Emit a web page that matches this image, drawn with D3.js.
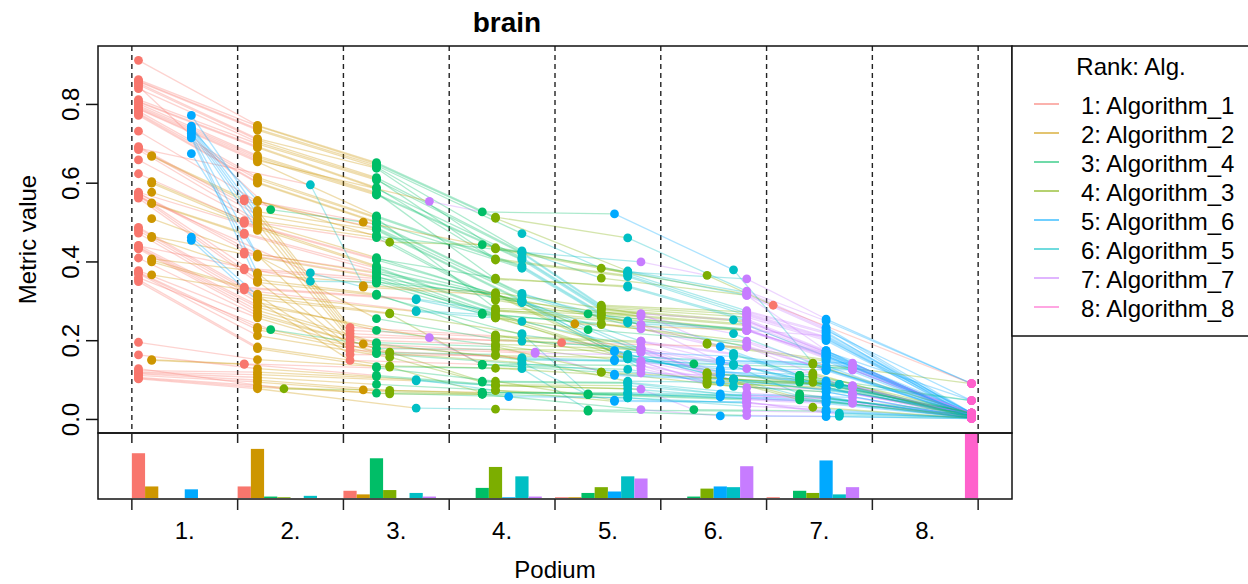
<!DOCTYPE html>
<html>
<head>
<meta charset="utf-8">
<script src="https://cdn.jsdelivr.net/npm/d3@7"></script>
<style>
body { margin: 0; background: #fff; }
text { font-family: "Liberation Sans", Arial, sans-serif; fill: #000; }
</style>
</head>
<body>
<svg id="chart" width="1248" height="584"></svg>
<script>
var chartTitle = "brain";
var xTitle = "Podium";
var yTitle = "Metric value";
var legendTitle = "Rank: Alg.";
// colours follow the alphabetical algorithm names
var algorithms = ["Algorithm_1", "Algorithm_2", "Algorithm_3", "Algorithm_4", "Algorithm_5", "Algorithm_6", "Algorithm_7", "Algorithm_8"];
var algColors = ["#F8766D", "#CD9600", "#7CAE00", "#00BE67", "#00BFC4", "#00A9FF", "#C77CFF", "#FF61CC"];
// consensus ranking, also the column order of caseValues
var consensus = ["Algorithm_1", "Algorithm_2", "Algorithm_4", "Algorithm_3", "Algorithm_6", "Algorithm_5", "Algorithm_7", "Algorithm_8"];
var podiumLabels = ["1.", "2.", "3.", "4.", "5.", "6.", "7.", "8."];
var yTicks = [0, 0.2, 0.4, 0.6, 0.8];

// metric value of every test case
var caseValues = [
	[.912,.747,.652,.514,.250,.461,.326,.091],
	[.863,.745,.649,.511,.234,.377,.323,.016],
	[.860,.738,.645,.384,.230,.472,.318,.010],
	[.858,.735,.641,.359,.226,.428,.315,.048],
	[.854,.713,.638,.433,.222,.371,.276,.004],
	[.850,.710,.614,.290,.218,.425,.273,.016],
	[.840,.704,.611,.408,.210,.366,.270,.010],
	[.812,.700,.608,.287,.207,.422,.267,.004],
	[.808,.693,.589,.405,.204,.363,.264,.016],
	[.806,.690,.586,.284,.200,.411,.260,.010],
	[.802,.670,.576,.356,.175,.339,.255,.004],
	[.797,.666,.573,.281,.172,.408,.251,.048],
	[.793,.662,.570,.278,.170,.405,.248,.016],
	[.790,.658,.527,.143,.522,.380,.554,.091],
	[.788,.654,.517,.271,.167,.390,.242,.010],
	[.783,.615,.514,.268,.163,.387,.239,.004],
	[.778,.610,.511,.282,.160,.253,.268,.016],
	[.775,.603,.502,.265,.158,.384,.229,.010],
	[.772,.600,.499,.259,.155,.320,.226,.004],
	[.560,.670,.496,.194,.152,.317,.241,.010],
	[.555,.668,.487,.191,.148,.314,.230,.004],
	[.732,.553,.484,.116,.098,.303,.180,.010],
	[.693,.528,.481,.106,.089,.300,.171,.016],
	[.690,.519,.468,.306,.130,.218,.262,.004],
	[.685,.505,.462,.303,.127,.249,.184,.010],
	[.505,.604,.444,.450,.175,.374,.315,.004],
	[.659,.500,.411,.095,.078,.297,.146,.016],
	[.500,.600,.408,.359,.170,.336,.251,.010],
	[.498,.577,.405,.319,.150,.160,.143,.004],
	[.624,.490,.390,.316,.128,.154,.126,.016],
	[.577,.485,.387,.279,.160,.250,.230,.010],
	[.473,.550,.384,.276,.167,.245,.226,.004],
	[.470,.548,.377,.140,.150,.300,.199,.016],
	[.425,.510,.374,.268,.094,.100,.171,.010],
	[.575,.420,.371,.089,.070,.303,.137,.004],
	[.420,.465,.364,.265,.145,.162,.135,.016],
	[.574,.412,.361,.092,.082,.297,.129,.010],
	[.384,.462,.358,.261,.123,.154,.085,.004],
	[.380,.408,.352,.114,.120,.249,.181,.016],
	[.571,.368,.346,.258,.172,.160,.126,.010],
	[.568,.355,.318,.215,.120,.157,.082,.004],
	[.562,.348,.315,.094,.115,.215,.174,.016],
	[.336,.405,.268,.276,.163,.306,.226,.010],
	[.333,.400,.270,.241,.136,.304,.199,.004],
	[.329,.367,.267,.244,.127,.276,.187,.016],
	[.488,.318,.228,.258,.124,.274,.196,.010],
	[.485,.312,.065,.270,.047,.218,.053,.004],
	[.480,.305,.138,.268,.078,.127,.081,.016],
	[.473,.298,.226,.188,.152,.140,.065,.010],
	[.442,.290,.140,.120,.070,.084,.208,.004],
	[.438,.285,.195,.185,.115,.103,.065,.016],
	[.436,.277,.192,.118,.149,.151,.129,.004],
	[.433,.270,.180,.178,.175,.100,.085,.010],
	[.410,.264,.097,.171,.058,.094,.066,.004],
	[.378,.258,.170,.165,.095,.097,.085,.010],
	[.374,.234,.063,.168,.056,.144,.061,.004],
	[.372,.228,.167,.109,.112,.141,.118,.004],
	[.370,.213,.095,.158,.053,.092,.058,.010],
	[.355,.184,.024,.136,.018,.129,.021,.004],
	[.350,.180,.134,.130,.112,.100,.068,.004],
	[.196,.152,.069,.133,.053,.068,.061,.010],
	[.141,.152,.131,.097,.049,.016,.044,.004],
	[.140,.150,.112,.088,.065,.086,.056,.004],
	[.164,.129,.109,.086,.060,.078,.045,.004],
	[.124,.120,.063,.074,.040,.101,.050,.004],
	[.120,.114,.025,.086,.021,.098,.077,.004],
	[.118,.107,.089,.074,.046,.012,.044,.004],
	[.116,.100,.067,.074,.057,.065,.041,.004],
	[.112,.095,.064,.070,.025,.055,.034,.004],
	[.107,.086,.067,.031,.058,.055,.041,.003],
	[.105,.082,.064,.065,.009,.008,.025,.002],
	[.103,.078,.021,.026,.007,.029,.010,.002],
	[.846,.501,.533,.436,.255,.374,.357,.091],
	[.689,.340,.112,.322,.185,.596,.268,.048],
	[.566,.336,.103,.316,.147,.372,.241,.016],
	[.441,.243,.349,.319,.213,.351,.226,.016],
	[.360,.192,.228,.098,.089,.154,.146,.010],
	[.129,.075,.069,.078,.044,.065,.053,.004],
	[.234,.531,.112,.212,.772,.168,.199,.016],
	[.226,.522,.108,.209,.745,.165,.196,.010],
	[.218,.510,.103,.201,.740,.140,.183,.004],
	[.210,.497,.095,.119,.735,.199,.180,.010],
	[.202,.480,.065,.191,.730,.137,.177,.004],
	[.194,.417,.060,.120,.726,.103,.171,.016],
	[.186,.372,.055,.116,.720,.165,.168,.004],
	[.176,.351,.050,.113,.715,.157,.149,.010],
	[.165,.315,.141,.162,.463,.157,.130,.016],
	[.150,.302,.140,.106,.455,.089,.137,.004],
	[.290,.556,.465,.366,.738,.425,.400,.091],
	[.195,.415,.256,.204,.675,.089,.184,.048]
];

var box = {left: 98, right: 1012, top: 46, mid: 433, bottom: 499};
var nAlg = consensus.length;
var nCase = caseValues.length;
var svg = d3.select('#chart');

var colorOf = d3.scaleOrdinal().domain(algorithms).range(algColors);
function algColor(k) { return colorOf(consensus[k]); }

// R style axis padding (4% on each side)
var x = d3.scaleLinear().domain([-0.04 * nAlg, nAlg * 1.04]).range([box.left, box.right]);
var ext = d3.extent(d3.merge(caseValues));
var pad = (ext[1] - ext[0]) * 0.04;
var y = d3.scaleLinear().domain([ext[0] - pad, ext[1] + pad]).range([box.mid, box.top]);
var yBar = d3.scaleLinear().domain([0, nCase]).range([box.bottom - 1, box.mid]);

// rank inside each case, larger is better, ties take the lowest rank
var ranked = caseValues.map(function(row) {
	return row.map(function(v, k) {
		var r = 1;
		row.forEach(function(w) { if (w > v) r++; });
		return {alg: k, value: v, rank: r};
	});
});
function xPos(d) { return x(d.rank - 1 + (d.alg + 0.5) / nAlg); }

// counts of each algorithm at each podium place
var counts = [];
for (var r = 0; r < nAlg; r++) for (var k = 0; k < nAlg; k++) counts.push({rank: r + 1, alg: k, n: 0});
ranked.forEach(function(row) {
	row.forEach(function(d) { counts[(d.rank - 1) * nAlg + d.alg].n++; });
});

// podium separators
svg.append('g').selectAll('line')
	.data(d3.range(nAlg + 1))
	.enter().append('line')
	.attr('x1', function(d) { return x(d); })
	.attr('x2', function(d) { return x(d); })
	.attr('y1', box.top)
	.attr('y2', box.mid)
	.attr('stroke', '#222')
	.attr('stroke-width', 1.4)
	.attr('stroke-dasharray', '5,4');

// connecting lines, each segment coloured by its starting algorithm
var segs = [];
ranked.forEach(function(row) {
	var ord = row.slice().sort(function(a, b) { return a.rank - b.rank || a.alg - b.alg; });
	for (var i = 0; i < ord.length - 1; i++) segs.push({a: ord[i], b: ord[i + 1]});
});
svg.append('g').selectAll('line')
	.data(segs)
	.enter().append('line')
	.attr('x1', function(d) { return xPos(d.a); })
	.attr('y1', function(d) { return y(d.a.value); })
	.attr('x2', function(d) { return xPos(d.b); })
	.attr('y2', function(d) { return y(d.b.value); })
	.attr('stroke', function(d) { return algColor(d.a.alg); })
	.attr('stroke-opacity', 0.32)
	.attr('stroke-width', 1.3);

svg.append('g').selectAll('circle')
	.data(d3.merge(ranked))
	.enter().append('circle')
	.attr('cx', xPos)
	.attr('cy', function(d) { return y(d.value); })
	.attr('r', 4.4)
	.attr('fill', function(d) { return algColor(d.alg); });

// bar panel
svg.append('g').selectAll('rect')
	.data(counts.filter(function(d) { return d.n > 0; }))
	.enter().append('rect')
	.attr('x', function(d) { return x(d.rank - 1 + d.alg / nAlg); })
	.attr('width', function(d) { return x(d.rank - 1 + (d.alg + 1) / nAlg) - x(d.rank - 1 + d.alg / nAlg); })
	.attr('y', function(d) { return yBar(d.n); })
	.attr('height', function(d) { return yBar(0) - yBar(d.n); })
	.attr('fill', function(d) { return algColor(d.alg); });

// frames
[[box.top, box.mid], [box.mid, box.bottom]].forEach(function(p) {
	svg.append('rect')
		.attr('x', box.left).attr('y', p[0])
		.attr('width', box.right - box.left).attr('height', p[1] - p[0])
		.attr('fill', 'none').attr('stroke', '#111').attr('stroke-width', 1.5);
});

// y axis
var yAxis = svg.append('g');
yAxis.selectAll('line').data(yTicks).enter().append('line')
	.attr('x1', box.left - 12).attr('x2', box.left)
	.attr('y1', function(d) { return y(d); }).attr('y2', function(d) { return y(d); })
	.attr('stroke', '#111').attr('stroke-width', 1.5);
yAxis.selectAll('text').data(yTicks).enter().append('text')
	.attr('transform', function(d) { return 'translate(79,' + y(d) + ') rotate(-90)'; })
	.attr('text-anchor', 'middle')
	.style('font-size', '24px')
	.text(function(d) { return d3.format('.1f')(d); });
svg.append('text')
	.attr('transform', 'translate(36,' + ((box.top + box.mid) / 2) + ') rotate(-90)')
	.attr('text-anchor', 'middle')
	.style('font-size', '24px')
	.text(yTitle);

// podium ticks and labels
var places = d3.range(nAlg + 1);
svg.append('g').selectAll('line').data(places).enter().append('line')
	.attr('x1', function(d) { return x(d); }).attr('x2', function(d) { return x(d); })
	.attr('y1', box.mid).attr('y2', box.mid + 10)
	.attr('stroke', '#222').attr('stroke-width', 1.5);
svg.append('g').selectAll('line').data(places).enter().append('line')
	.attr('x1', function(d) { return x(d); }).attr('x2', function(d) { return x(d); })
	.attr('y1', box.bottom).attr('y2', box.bottom + 11)
	.attr('stroke', '#222').attr('stroke-width', 1.5);
svg.append('g').selectAll('text').data(podiumLabels).enter().append('text')
	.attr('x', function(d, i) { return x(i + 0.5); })
	.attr('y', 539)
	.attr('text-anchor', 'middle')
	.style('font-size', '24px')
	.text(function(d) { return d; });
svg.append('text')
	.attr('x', (box.left + box.right) / 2)
	.attr('y', 578)
	.attr('text-anchor', 'middle')
	.style('font-size', '24px')
	.text(xTitle);

svg.append('text')
	.attr('x', 507)
	.attr('y', 32)
	.attr('text-anchor', 'middle')
	.style('font-size', '28px')
	.style('font-weight', 'bold')
	.text(chartTitle);

// legend
var lg = svg.append('g');
lg.append('rect')
	.attr('x', box.right).attr('y', box.top)
	.attr('width', 260).attr('height', 290)
	.attr('fill', '#fff').attr('stroke', '#111').attr('stroke-width', 1.5);
lg.append('text')
	.attr('x', 1131).attr('y', 75)
	.attr('text-anchor', 'middle')
	.style('font-size', '24px')
	.text(legendTitle);
var items = lg.selectAll('g.item').data(consensus).enter().append('g')
	.attr('class', 'item')
	.attr('transform', function(d, i) { return 'translate(0,' + (i * 29) + ')'; });
items.append('line')
	.attr('x1', 1034).attr('x2', 1059)
	.attr('y1', 104).attr('y2', 104)
	.attr('stroke', function(d) { return colorOf(d); })
	.attr('stroke-opacity', 0.7)
	.attr('stroke-width', 1.6);
items.append('text')
	.attr('x', 1081).attr('y', 114)
	.style('font-size', '24px')
	.text(function(d, i) { return (i + 1) + ': ' + d; });
</script>
</body>
</html>
